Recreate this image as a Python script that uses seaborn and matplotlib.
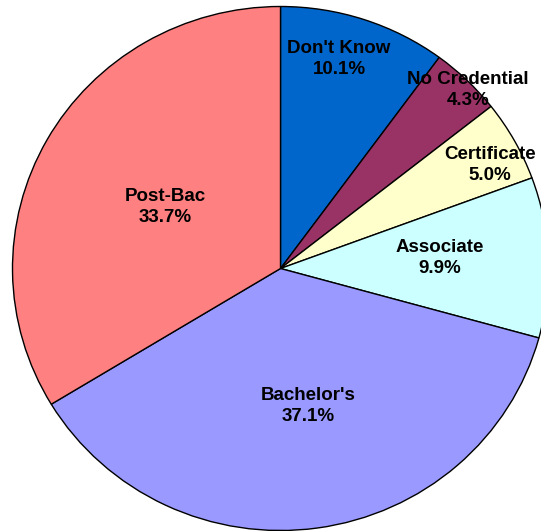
import matplotlib
matplotlib.use("Agg")
import matplotlib.pyplot as plt
import seaborn as sns

categories = ["Don't Know", "No Credential", "Certificate", "Associate", "Bachelor's", "Post-Bac"]
values = [10.1, 4.3, 5.0, 9.9, 37.1, 33.7]
pct_labels = ["10.1%", "4.3%", "5.0%", "9.9%", "37.1%", "33.7%"]

colors = ["#0066CC", "#993366", "#FFFFCC", "#CCFFFF", "#9999FF", "#FF8080"]
# label block centres in pixel coordinates (style/layout)
label_px = [(339, 59), (468, 90), (490, 165), (440, 258), (308, 406), (165, 207)]

sns.set_style("white")
plt.rcParams['font.family'] = ['Liberation Sans', 'DejaVu Sans']

W, H = 541, 531
cx, cy = 280.5, 268.5
RX, RY = 268, 262  # slightly elliptical pie, as in the reference
fig = plt.figure(figsize=(W / 100, H / 100), dpi=100)
ax = fig.add_axes([0, 0, 1, 1])
ax.pie(values, colors=colors, startangle=90, counterclock=False, radius=1,
       wedgeprops=dict(edgecolor="black", linewidth=1.0))
ax.set_aspect('auto')
ax.set_xlim(-cx / RX, (W - cx) / RX)
ax.set_ylim(-(H - cy) / RY, cy / RY)
ax.axis('off')

for cat, pct, (px, py) in zip(categories, pct_labels, label_px):
    ax.text((px - cx) / RX, (cy - py) / RY, f"{cat}\n{pct}", ha='center', va='center',
            fontsize=13.5, fontweight='bold', color='black', linespacing=1.35)

fig.savefig("out.png", dpi=100, facecolor="white")
